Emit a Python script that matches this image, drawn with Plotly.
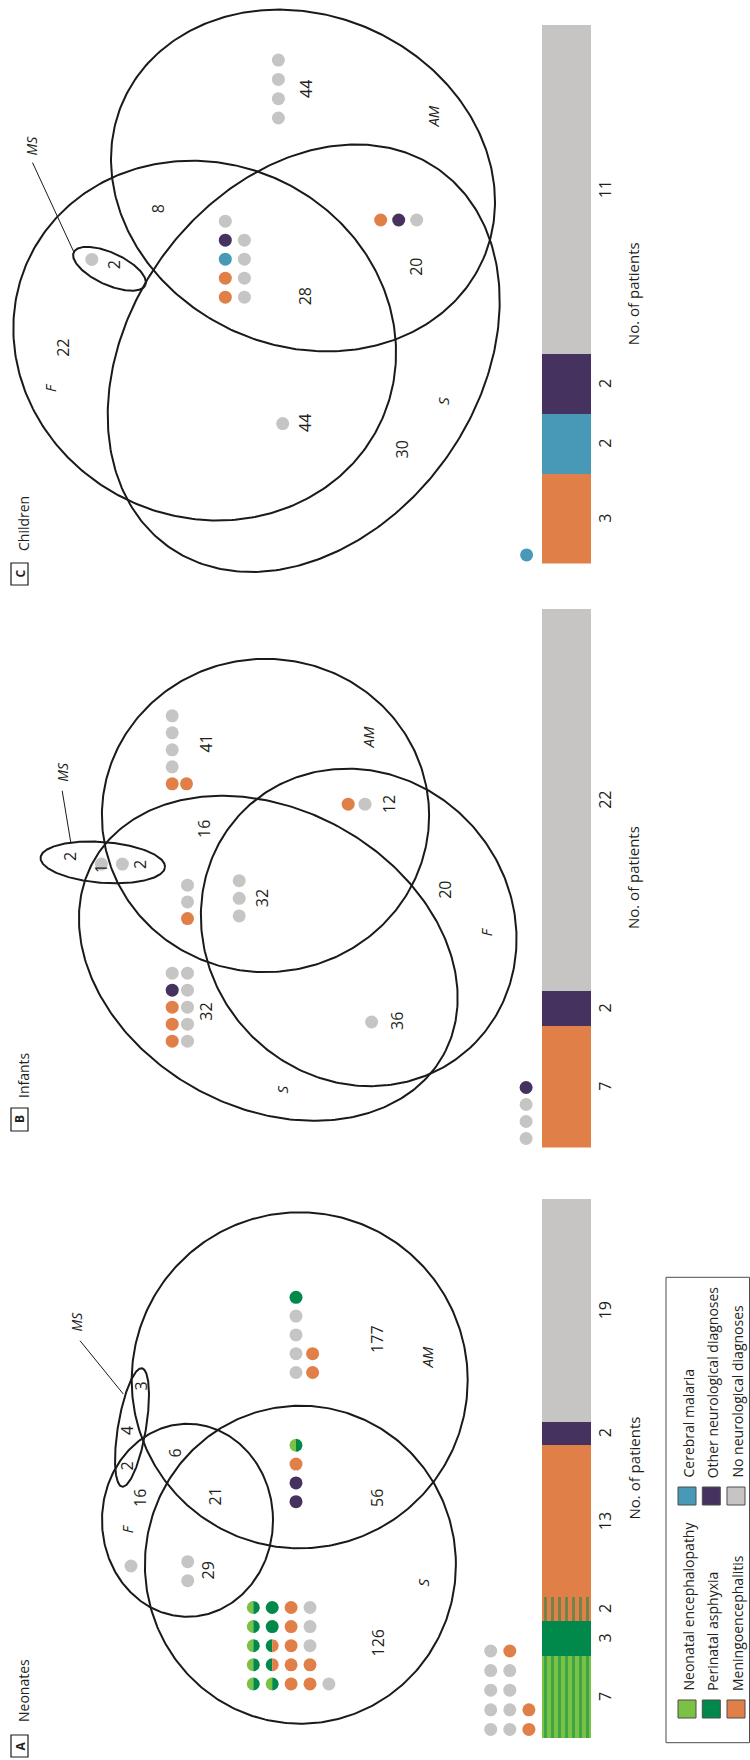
import numpy as np
import plotly.graph_objects as go

FIG_W, FIG_H = 750, 1760
FONT = "Open Sans"
INK = "#231f20"
LINE = "#1a1a1a"

# ---------------- diagnosis categories ----------------
CATEGORY_KEYS = ["NE", "PA", "ME", "CM", "OT", "NO"]
CATEGORY_LABELS = ["Neonatal encephalopathy", "Perinatal asphyxia", "Meningoencephalitis",
                   "Cerebral malaria", "Other neurological diagnoses", "No neurological diagnoses"]
CATEGORY_COLORS = ["#7bc143", "#00894b", "#e07f48", "#4799b7", "#46325e", "#c6c5c3"]
COLOR = dict(zip(CATEGORY_KEYS, CATEGORY_COLORS))

# ---------------- stacked bars: patients per diagnosis (bottom to top) ----------------
neonates_bar_keys = ["NE+PA", "PA", "PA+ME", "ME", "OT", "NO"]
neonates_bar_values = [7, 3, 2, 13, 2, 19]
infants_bar_keys = ["ME", "OT", "NO"]
infants_bar_values = [7, 2, 22]
children_bar_keys = ["ME", "CM", "OT", "NO"]
children_bar_values = [3, 2, 2, 11]

# ---------------- Venn region counts ----------------
neonates_regions = ["AM", "AM&S", "AM&F&S", "AM&F", "F", "F&S", "S", "MS&AM", "MS", "MS&F"]
neonates_counts = [177, 56, 21, 6, 16, 29, 126, 3, 4, 2]
infants_regions = ["AM", "AM&S", "AM&F", "AM&F&S", "F", "S", "F&S", "MS", "MS&S", "MS&AM&S"]
infants_counts = [41, 16, 12, 32, 20, 32, 36, 2, 1, 2]
children_regions = ["AM", "AM&F", "MS&F", "F", "AM&F&S", "AM&S", "F&S", "S"]
children_counts = [44, 8, 2, 22, 28, 20, 44, 30]

# ---------------- patients with a final diagnosis, per region (one code per patient) ----------------
# "A|B" = patient with two diagnoses (left half A, right half B)
neonates_dots = [
    [["PA"], ["NO"], ["NO"], ["NO", "ME"], ["NO", "ME"]],                      # AM
    [["NE|PA"], ["ME"], ["OT"], ["OT"]],                                        # AM & S
    [["NO"]],                                                                   # F
    [["NO"], ["NO"]],                                                           # F & S
    [["NE|PA", "PA", "ME", "NO"], ["NE|PA", "PA", "ME", "NO"],
     ["NE|PA", "PA|ME", "ME", "NO"], ["NE|PA", "PA|ME", "ME", "ME"],
     ["NE|PA", "NE|PA", "ME", "ME", "NO"]],                                     # S
    [["NO", "ME"], ["NO", "NO"], ["NO", "NO"], ["NO", "NO", "ME"], ["NO", "NO", "ME"]],  # no sign
]
infants_dots = [
    [["NO", "NO"]],                                                             # MS
    [["NO"], ["NO"], ["NO"], ["NO"], ["ME", "ME"]],                             # AM
    [["ME", "NO"]],                                                             # AM & F
    [["NO"], ["NO"], ["ME"]],                                                   # AM & S
    [["NO"], ["NO"], ["NO"]],                                                   # AM & F & S
    [["NO", "NO"], ["OT", "NO"], ["ME", "NO"], ["ME", "NO"], ["ME", "NO"]],     # S
    [["NO"]],                                                                   # F & S
    [["OT"], ["NO"], ["NO"], ["NO"]],                                           # no sign
]
children_dots = [
    [["NO"]],                                                                   # MS & F
    [["NO"], ["NO"], ["NO"], ["NO"]],                                           # AM
    [["NO"], ["OT", "NO"], ["CM", "NO"], ["ME", "NO"], ["ME", "NO"]],           # AM & F & S
    [["ME", "OT", "NO"]],                                                       # AM & S
    [["NO"]],                                                                   # F & S
    [["CM"]],                                                                   # no sign
]

# ---------------- drawing layout (pixel space, y downwards) ----------------
PANELS = {
    "A": dict(title="Neonates", box_y=(1735, 1757), title_y=1691,
              bar=(1199, 1738), bar_keys=neonates_bar_keys, bar_values=neonates_bar_values,
              ellipses=[(299.7, 1380.3, 168, 168, 0), (300.4, 1564.7, 155.5, 159, 0),
                        (187.5, 1520.3, 85.5, 96.5, 0), (132, 1427.5, 60, 14, 99.5)],
              leader=((80, 1340.7), (123.3, 1394)),
              sets=[("AM", 427, 1357.6), ("S", 422, 1582.5), ("F", 126.7, 1528.5), ("MS", 76.7, 1321.7)],
              counts=neonates_counts,
              count_pos=[(376.9, 1339), (376.9, 1498), (214, 1496.5), (174, 1453.5), (140, 1498),
                         (207.5, 1571), (377.5, 1643), (141.4, 1386), (126.7, 1430.2), (126.7, 1465.7)],
              dots=neonates_dots,
              grids=[(296, 1297.3, 16.6, 18.8), (296, 1445.3, 18, 18.8), (131, 1566, 18, 19),
                     (187.7, 1561.7, 18, 19), (253.3, 1607.5, 18.9, 19.1), (490.7, 1651, 19.1, 19.6)]),
    "B": dict(title="Infants", box_y=(1108, 1131), title_y=1075,
              bar=(608.6, 1147.5), bar_keys=infants_bar_keys, bar_values=infants_bar_values,
              ellipses=[(265.5, 815.5, 163.6, 156.7, 0), (358.7, 927.4, 164, 152.4, 47.3),
                        (268.3, 958.3, 200, 149.2, 28.9), (102.8, 862.4, 62.4, 20.4, 4.4)],
              leader=((62.2, 790.8), (70.8, 842.6)),
              sets=[("AM", 368.3, 737.2), ("F", 486.9, 931.4), ("S", 282.2, 1089.4), ("MS", 62.2, 771.6)],
              counts=infants_counts,
              count_pos=[(205.7, 743.9), (203.3, 828.6), (388.4, 803.8), (262.1, 898.1), (444.8, 890),
                         (205.7, 1012), (397, 1020.9), (69.4, 856.7), (100.4, 868.5), (140.1, 864.8)],
              dots=infants_dots,
              grids=[(101.4, 864.1, 21, 17), (172.2, 715.8, 14.3, 17), (348.2, 804.2, 16.8, 17),
                     (187.5, 885.2, 15, 16.7), (239.2, 880.7, 15, 17.6), (172.2, 973.2, 15.3, 17),
                     (371.6, 1022, 15, 17), (526.1, 1087.5, 15, 17)]),
    "C": dict(title="Children", box_y=(563, 585), title_y=524,
              bar=(24.7, 563.6), bar_keys=children_bar_keys, bar_values=children_bar_values,
              ellipses=[(204.7, 340.6, 194, 177, 23.7), (303, 180.5, 196.6, 165.6, 23.5),
                        (303.7, 358.2, 232, 174, -54), (109.5, 268.8, 39.4, 16, 24.7)],
              leader=((32.5, 162.6), (74.1, 252.6)),
              sets=[("F", 49.3, 387.6), ("AM", 432.9, 116.7), ("S", 442.4, 400.6), ("MS", 31.1, 145.4)],
              counts=children_counts,
              count_pos=[(306.1, 88.8), (157.8, 208.5), (113.4, 264.8), (63.6, 348.2), (304.7, 296.6),
                         (416.1, 266.7), (305.2, 422.8), (401.8, 449.6)],
              dots=children_dots,
              grids=[(91.8, 259.4, 18, 19), (278.4, 60.1, 18, 19.3), (225.3, 221.2, 19.1, 19),
                     (380.7, 220, 18, 19), (282.7, 423.6, 18, 19), (526.6, 554.9, 18, 19)]),
}

BAR_X = (542, 591)
BAR_LABEL_X = 605
BAR_TITLE_X = 633
DOT_R = 6.5

BAR_STYLE = {
    "NE+PA": dict(color=COLOR["NE"], pattern=dict(shape="|", fgcolor=COLOR["PA"], bgcolor=COLOR["NE"],
                                                  size=7, solidity=0.42)),
    "PA+ME": dict(color=COLOR["ME"], pattern=dict(shape="|", fgcolor=COLOR["PA"], bgcolor=COLOR["ME"],
                                                  size=7, solidity=0.42)),
}
for k in CATEGORY_KEYS:
    BAR_STYLE[k] = dict(color=COLOR[k])


def ellipse_xy(cx, cy, a, b, angle_deg, n=361):
    t = np.linspace(0, 2 * np.pi, n)
    th = np.deg2rad(angle_deg)
    x = cx + a * np.cos(th) * np.cos(t) - b * np.sin(th) * np.sin(t)
    y = cy + a * np.sin(th) * np.cos(t) + b * np.cos(th) * np.sin(t)
    return x, y


def half_disc(cx, cy, r, side, n=40):
    t = np.linspace(np.pi / 2, 3 * np.pi / 2, n) if side == "left" else np.linspace(-np.pi / 2, np.pi / 2, n)
    return cx + r * np.cos(t), cy + r * np.sin(t)


fig = go.Figure()
annotations = []
shapes = []


def text(x, y, s, size=16, angle=-90, xref="x", yref="y", xanchor="center", yanchor="middle"):
    annotations.append(dict(x=x, y=y, xref=xref, yref=yref, text=s, showarrow=False, textangle=angle,
                            xanchor=xanchor, yanchor=yanchor,
                            font=dict(family=FONT, size=size, color=INK)))


full_x = {k: [] for k in CATEGORY_KEYS}
full_y = {k: [] for k in CATEGORY_KEYS}

for idx, (name, p) in enumerate(PANELS.items()):
    # set outlines
    for (cx, cy, a, b, ang) in p["ellipses"]:
        ex, ey = ellipse_xy(cx, cy, a, b, ang)
        fig.add_trace(go.Scatter(x=ex, y=ey, mode="lines", line=dict(color=LINE, width=2),
                                 hoverinfo="skip", xaxis="x", yaxis="y"))
    (lx0, ly0), (lx1, ly1) = p["leader"]
    fig.add_trace(go.Scatter(x=[lx0, lx1], y=[ly0, ly1], mode="lines", line=dict(color=LINE, width=1),
                             hoverinfo="skip"))

    # patient dots
    for rows, (x0, y0, dx, dy) in zip(p["dots"], p["grids"]):
        for i, row in enumerate(rows):
            for j, code in enumerate(row):
                x, y = x0 + j * dx, y0 + i * dy
                if "|" in code:
                    left, right = code.split("|")
                    for side, key in (("left", left), ("right", right)):
                        hx, hy = half_disc(x, y, DOT_R, side)
                        fig.add_trace(go.Scatter(x=hx, y=hy, mode="lines", fill="toself",
                                                 fillcolor=COLOR[key], line=dict(width=0, color=COLOR[key]),
                                                 hoverinfo="skip"))
                else:
                    full_x[code].append(x)
                    full_y[code].append(y)

    # region counts and set names
    for c, (x, y) in zip(p["counts"], p["count_pos"]):
        text(x, y, str(c), size=16)
    for s, x, y in p["sets"]:
        text(x, y, f"<i>{s}</i>", size=15 if s != "MS" else 14)

    # panel label
    by0, by1 = p["box_y"]
    shapes.append(dict(type="rect", xref="x", yref="y", x0=11, x1=28, y0=by0, y1=by1,
                       line=dict(color=LINE, width=1.2)))
    text(19.5, (by0 + by1) / 2, f"<b>{name}</b>", size=12)
    text(23, p["title_y"], p["title"], size=14)

    # stacked bar on its own axes
    ax = idx + 2
    total = sum(p["bar_values"])
    for key, v in zip(p["bar_keys"], p["bar_values"]):
        fig.add_trace(go.Bar(x=[0], y=[v], width=[1], marker=dict(line=dict(width=0), **BAR_STYLE[key]),
                             xaxis=f"x{ax}", yaxis=f"y{ax}", hoverinfo="skip"))
    cum = 0
    for v in p["bar_values"]:
        text(BAR_LABEL_X / FIG_W, cum + v / 2, str(v), size=16, xref="paper", yref=f"y{ax}")
        cum += v
    text(BAR_TITLE_X / FIG_W, 0.5, "No. of patients", size=15, xref="paper", yref=f"y{ax} domain")

    top, bottom = p["bar"]
    fig.layout[f"xaxis{ax}"] = dict(domain=[BAR_X[0] / FIG_W, BAR_X[1] / FIG_W], range=[-0.5, 0.5],
                                    visible=False, anchor=f"y{ax}", fixedrange=True)
    fig.layout[f"yaxis{ax}"] = dict(domain=[1 - bottom / FIG_H, 1 - top / FIG_H], range=[0, total],
                                    visible=False, anchor=f"x{ax}", fixedrange=True)

for k in CATEGORY_KEYS:
    if full_x[k]:
        fig.add_trace(go.Scatter(x=full_x[k], y=full_y[k], mode="markers",
                                 marker=dict(size=2 * DOT_R, color=COLOR[k], line=dict(width=0)),
                                 hoverinfo="skip"))

# legend
shapes.append(dict(type="rect", xref="x", yref="y", x0=666, x1=749.5, y0=1277.3, y1=1742.7,
                   line=dict(color="#4d4d4d", width=1)))
LEGEND_COL_X = [687, 711.3, 736]
LEGEND_ROW = [(1700, 1718, 1693), (1487, 1505, 1480)]
for i, (key, label) in enumerate(zip(CATEGORY_KEYS, CATEGORY_LABELS)):
    col = i % 3
    sy0, sy1, ty = LEGEND_ROW[i // 3]
    cx = LEGEND_COL_X[col]
    shapes.append(dict(type="rect", xref="x", yref="y", x0=cx - 9, x1=cx + 9, y0=sy0, y1=sy1,
                       fillcolor=COLOR[key], line=dict(color="#4d4d4d", width=1)))
    text(cx + 1, ty, label, size=14, yanchor="bottom")

fig.update_layout(
    width=FIG_W, height=FIG_H, margin=dict(l=0, r=0, t=0, b=0),
    paper_bgcolor="white", plot_bgcolor="white", showlegend=False, barmode="stack",
    xaxis=dict(domain=[0, 1], range=[0, FIG_W], visible=False, fixedrange=True),
    yaxis=dict(domain=[0, 1], range=[FIG_H, 0], visible=False, fixedrange=True),
    annotations=annotations, shapes=shapes,
)

fig.write_html("out.html")
